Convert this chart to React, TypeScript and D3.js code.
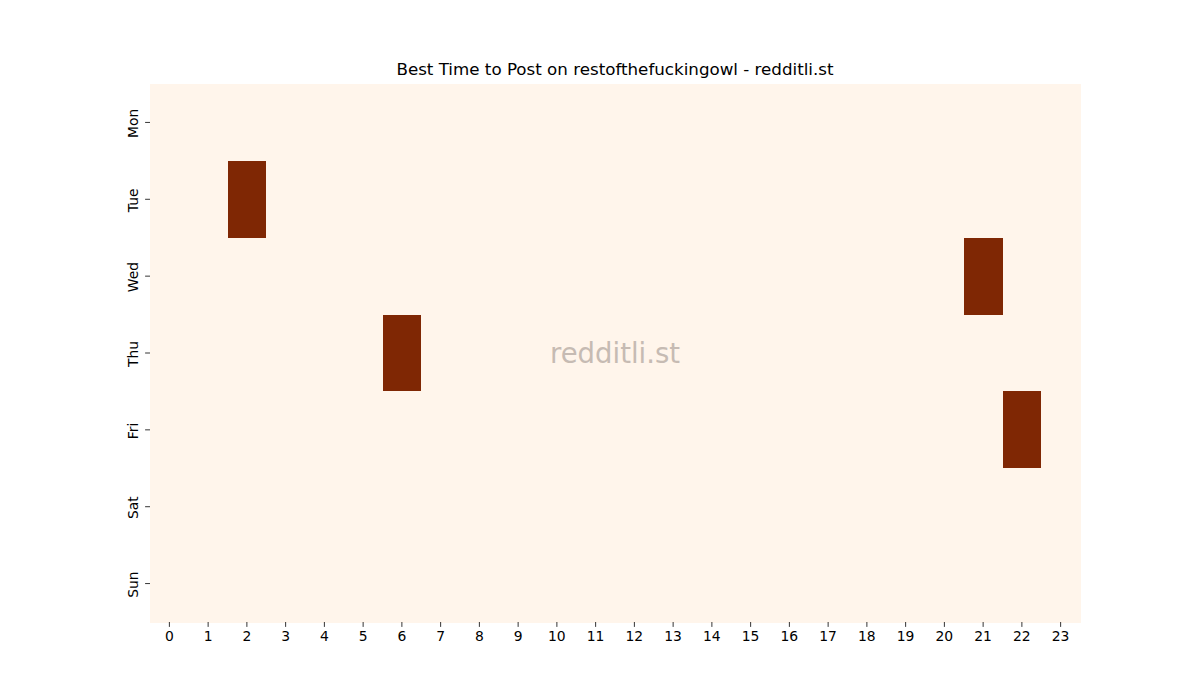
import React, { useRef, useEffect } from "react";
import * as d3 from "d3";

const days = ["Mon", "Tue", "Wed", "Thu", "Fri", "Sat", "Sun"];
const hours = d3.range(24).map(String);
// posts per (day, hour); only four slots have any activity
const hotCells = [
  { day: "Tue", hour: "2", value: 1 },
  { day: "Wed", hour: "21", value: 1 },
  { day: "Thu", hour: "6", value: 1 },
  { day: "Fri", hour: "22", value: 1 },
];

const title = "Best Time to Post on restofthefuckingowl - redditli.st";
const watermark = "redditli.st";

const dims = {
  width: 1200,
  height: 700,
  margin: { top: 84, right: 120, bottom: 78, left: 150 },
};
const boundedWidth = dims.width - dims.margin.left - dims.margin.right;
const boundedHeight = dims.height - dims.margin.top - dims.margin.bottom;

export default function App() {
  const svgRef = useRef<SVGSVGElement>(null);

  useEffect(() => {
    if (!svgRef.current) return;
    const svg = d3.select(svgRef.current);
    svg.selectAll("*").remove();

    const xScale = d3.scaleBand().domain(hours).range([0, boundedWidth]);
    const yScale = d3.scaleBand().domain(days).range([0, boundedHeight]);
    const color = d3.scaleLinear<string>().domain([0, 1]).range(["#fff5eb", "#7f2704"]);

    const lookup = new Map(hotCells.map((c) => [`${c.day}-${c.hour}`, c.value]));
    const cells = days.flatMap((day) =>
      hours.map((hour) => ({ day, hour, value: lookup.get(`${day}-${hour}`) ?? 0 }))
    );

    const bounds = svg
      .append("g")
      .attr("transform", `translate(${dims.margin.left},${dims.margin.top})`);

    bounds
      .selectAll("rect")
      .data(cells)
      .join("rect")
      .attr("x", (d) => xScale(d.hour)!)
      .attr("y", (d) => yScale(d.day)!)
      .attr("width", xScale.bandwidth() + 0.5)
      .attr("height", yScale.bandwidth() + 0.5)
      .attr("fill", (d) => color(d.value))
      .attr("shape-rendering", "crispEdges");

    const xAxis = bounds
      .append("g")
      .attr("transform", `translate(0,${boundedHeight})`)
      .call(d3.axisBottom(xScale).tickSize(4.9).tickPadding(4.5));
    const yAxis = bounds.append("g").call(d3.axisLeft(yScale).tickSize(4.9).tickPadding(4.5));

    [xAxis, yAxis].forEach((ax) => {
      ax.select(".domain").remove();
      ax.selectAll("line").attr("stroke", "#000").attr("stroke-width", 0.8);
      ax.selectAll("text")
        .attr("fill", "#000")
        .style("font-family", "DejaVu Sans")
        .style("font-size", "13.9px");
    });

    yAxis
      .selectAll<SVGTextElement, string>("text")
      .attr("x", null)
      .attr("dy", null)
      .attr("text-anchor", "middle")
      .attr("transform", "translate(-12.5,1) rotate(-90)");

    svg
      .append("text")
      .attr("x", dims.margin.left + boundedWidth / 2)
      .attr("y", dims.margin.top - 9)
      .attr("text-anchor", "middle")
      .style("font-family", "DejaVu Sans")
      .style("font-size", "16.7px")
      .text(title);

    svg
      .append("text")
      .attr("x", dims.margin.left + boundedWidth / 2)
      .attr("y", dims.margin.top + boundedHeight / 2)
      .attr("text-anchor", "middle")
      .attr("dominant-baseline", "central")
      .attr("fill", "#c6bbb3")
      .style("font-family", "DejaVu Sans")
      .style("font-size", "27.5px")
      .text(watermark);
  }, []);

  return (
    <svg
      ref={svgRef}
      width={dims.width}
      height={dims.height}
      style={{ position: "absolute", left: 0, top: 0, background: "#fff" }}
    />
  );
}
